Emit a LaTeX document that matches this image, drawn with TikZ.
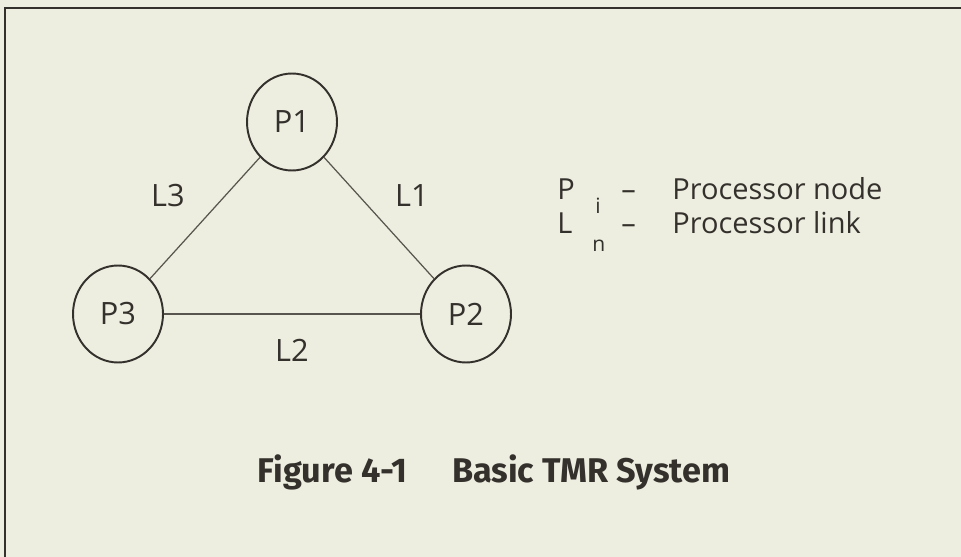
\documentclass[tikz,border=0pt]{standalone}
\usepackage{fontspec}
\setmainfont{Open Sans}
\newfontfamily\captionfont{Fira Sans}
\usepackage{tikz}
\usetikzlibrary{positioning, shapes.geometric}
\definecolor{paper}{RGB}{237,238,224}
\definecolor{penink}{RGB}{52,48,44}
\definecolor{linkgray}{RGB}{88,85,78}

\begin{document}
\begin{tikzpicture}[x=0.02cm, y=-0.02cm,
    proc/.style={draw=penink, ellipse, line width=1.1pt, minimum width=1.8cm, minimum height=1.94cm, inner sep=0pt, text=penink, font=\fontsize{17.5}{18}\selectfont},
    link/.style={draw=linkgray, line width=0.7pt},
    lbl/.style={text=penink, inner sep=0pt, font=\fontsize{17.5}{18}\selectfont},
    legend/.style={text=penink, inner sep=0pt, anchor=base west, font=\fontsize{16.5}{18}\selectfont},
    sub/.style={text=penink, inner sep=0pt, anchor=base west, font=\fontsize{12}{13}\selectfont}]
  \useasboundingbox (0,0) rectangle (961,557);
  \fill[paper] (0,0) rectangle (961,557);
  % frame, only top and left edges on the sheet
  \draw[penink, line width=1.4pt] (5,557) -- (5,8) -- (961,8);

  \node[proc] (p1) at (292,122) {P1};
  \node[proc] (p3) at (118,314) {P3};
  \node[proc] (p2) at (466,314) {P2};

  \draw[link] (p1) -- (p3);
  \draw[link] (p1) -- (p2);
  \draw[link] (p3) -- (p2);

  \node[lbl] (l3) at (168,196) {L3};
  \node[lbl] (l1) at (412,196) {L1};
  \node[lbl] (l2) at (292,350) {L2};

  % key
  \node[legend] (keyp) at (557,200) {P};
  \node[sub] (keyi) at (595,214) {i};
  \node[legend] (dashp) at (621,200) {--};
  \node[legend] (procnode) at (672,200) {Processor node};
  \node[legend] (keyl) at (557,234) {L};
  \node[sub] (keyn) at (592,252) {n};
  \node[legend] (dashl) at (621,234) {--};
  \node[legend] (proclink) at (672,234) {Processor link};

  \node[text=penink, font=\captionfont\bfseries\fontsize{19.5}{20}\selectfont] (caption) at (494,472) {Figure 4-1\hspace{1.3em}Basic TMR System};
\end{tikzpicture}
\end{document}
